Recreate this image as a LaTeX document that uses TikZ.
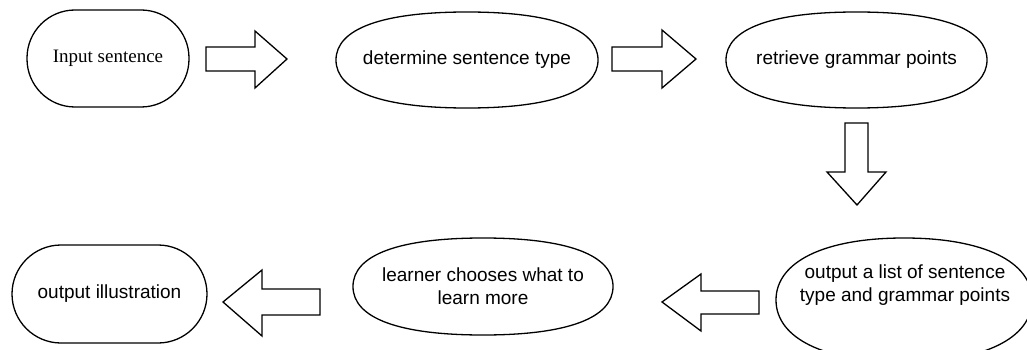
\documentclass[tikz,border=0pt]{standalone}
\usepackage{fontspec}
\setmainfont{Liberation Sans}
\newfontfamily\timesfont{Liberation Serif}
\usetikzlibrary{calc}
\tikzset{
  outl/.style={line width=1.3pt, draw=black, line join=miter},
  box/.style={inner sep=0pt, outer sep=0pt, align=center, font=\fontsize{19}{23}\selectfont},
  stadium/.style={box, draw=black, line width=1.3pt},
  blockarrow/.style={outl, fill=white},
}
\newcommand\softoval[2][0.65]{%
  \draw[outl] let \p1=(#2.north east), \p2=(#2.south west), \p3=(#2.center) in
  (\x2,\y3) .. controls (\x2,{\y3+#1*(\y1-\y3)}) and ({\x3-#1*(\x3-\x2)},\y1) .. (\x3,\y1)
  .. controls ({\x3+#1*(\x1-\x3)},\y1) and (\x1,{\y3+#1*(\y1-\y3)}) .. (\x1,\y3)
  .. controls (\x1,{\y3-#1*(\y1-\y3)}) and ({\x3+#1*(\x1-\x3)},\y2) .. (\x3,\y2)
  .. controls ({\x3-#1*(\x3-\x2)},\y2) and (\x2,{\y3-#1*(\y1-\y3)}) .. cycle;}
\begin{document}
\begin{tikzpicture}[x=1pt,y=-1pt]
\useasboundingbox (0,0) rectangle (1027,350);
% nodes
\node[stadium, rounded corners=48pt, minimum width=162pt, minimum height=97pt,
      font=\timesfont\fontsize{19}{23}\selectfont] (inp) at (108,58.5) {Input sentence};
\node[box, minimum width=262pt, minimum height=96pt] (det) at (467,60) {determine sentence type};
\node[box, minimum width=261pt, minimum height=96pt] (ret) at (856.5,60) {retrieve grammar points};
\node[box, minimum width=256pt, minimum height=124pt] (lst) at (904,300) {};
\node[box] (lsttxt) at (905,285.5) {output a list of sentence\\type and grammar points};
\node[box, minimum width=260pt, minimum height=97pt] (lrn) at (483,286.5) {learner chooses what to\\learn more};
\node[stadium, rounded corners=49pt, minimum width=195pt, minimum height=98pt] (ill) at (109.5,294) {output illustration};
\softoval{det}
\softoval{ret}
\softoval[0.62]{lst}
\softoval{lrn}
% block arrows
\draw[blockarrow] (206,47) -- (255,47) -- (255,31) -- (287,59) -- (255,88) -- (255,71) -- (206,71) -- cycle;
\draw[blockarrow] (612,47) -- (662,47) -- (662,30) -- (696,59) -- (662,88) -- (662,71) -- (612,71) -- cycle;
\draw[blockarrow] (845,123) -- (868,123) -- (868,172) -- (886,172) -- (857,205) -- (827,172) -- (845,172) -- cycle;
\draw[blockarrow] (759,291) -- (701,291) -- (701,274) -- (662,302) -- (701,331) -- (701,314) -- (759,314) -- cycle;
\draw[blockarrow] (320,289) -- (262,289) -- (262,270) -- (223,302) -- (262,336) -- (262,315) -- (320,315) -- cycle;
\end{tikzpicture}
\end{document}
